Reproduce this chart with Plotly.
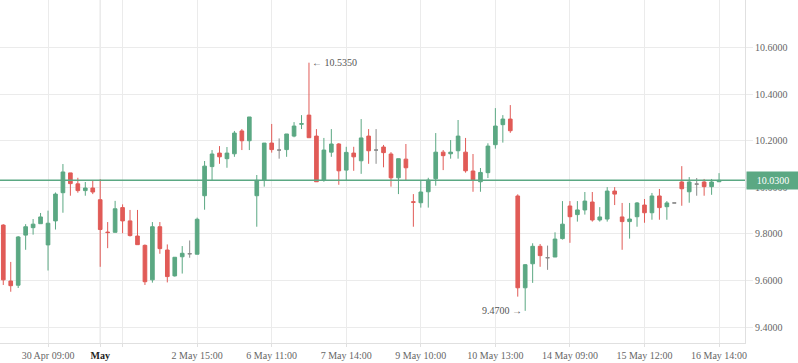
import numpy as np
import plotly.graph_objects as go

opens = [9.838, 9.598, 9.580, 9.795, 9.827, 9.844, 9.753, 9.856, 9.977, 10.062,
         10.015, 9.986, 9.997, 9.947, 9.808, 9.807, 9.913, 9.856, 9.791, 9.751,
         9.603, 9.831, 9.731, 9.620, 9.702, 9.715, 9.713, 9.964, 10.089, 10.147,
         10.123, 10.144, 10.242, 10.200, 9.964, 10.030, 10.190, 10.160, 10.162, 10.220,
         10.271, 10.310, 10.220, 10.031, 10.151, 10.186, 10.074, 10.147, 10.114, 10.220,
         10.160, 10.173, 10.143, 10.041, 10.121, 9.938, 9.934, 9.981, 10.037, 10.151,
         10.144, 10.157, 10.151, 10.070, 10.024, 10.063, 10.183, 10.269, 10.293, 9.963,
         9.569, 9.672, 9.747, 9.698, 9.701, 9.780, 9.920, 9.883, 9.903, 9.937,
         9.860, 9.864, 9.984, 9.873, 9.853, 9.874, 9.924, 9.891, 9.963, 9.917,
         9.933, 10.023, 9.981, 10.014, 10.023, 10.003, 10.024]
highs = [9.842, 9.680, 9.791, 9.842, 9.864, 9.890, 9.900, 9.978, 10.100, 10.062,
         10.041, 10.023, 10.030, 10.035, 9.851, 9.942, 9.927, 9.903, 9.903, 9.755,
         9.851, 9.851, 9.755, 9.700, 9.748, 9.772, 9.870, 10.113, 10.160, 10.177,
         10.173, 10.242, 10.250, 10.302, 10.053, 10.190, 10.272, 10.210, 10.229, 10.280,
         10.310, 10.535, 10.250, 10.212, 10.250, 10.190, 10.174, 10.174, 10.293, 10.250,
         10.250, 10.182, 10.151, 10.123, 10.186, 9.971, 10.028, 10.041, 10.233, 10.160,
         10.203, 10.289, 10.212, 10.143, 10.083, 10.189, 10.340, 10.310, 10.353, 9.970,
         9.671, 9.760, 9.757, 9.750, 9.807, 9.941, 9.941, 9.941, 9.980, 9.980,
         9.915, 10.001, 10.001, 9.933, 9.933, 9.937, 9.950, 9.976, 9.993, 9.941,
         9.933, 10.091, 10.044, 10.040, 10.036, 10.036, 10.061]
lows = [9.581, 9.552, 9.568, 9.732, 9.797, 9.844, 9.643, 9.819, 9.891, 9.964,
        9.977, 9.964, 9.971, 9.659, 9.739, 9.807, 9.803, 9.789, 9.754, 9.581,
        9.591, 9.715, 9.592, 9.617, 9.630, 9.698, 9.713, 9.904, 10.031, 10.101,
        10.084, 10.131, 10.160, 10.160, 9.831, 10.003, 10.149, 10.123, 10.131, 10.215,
        10.250, 10.213, 10.024, 10.024, 10.131, 10.011, 10.031, 10.071, 10.058, 10.101,
        10.101, 10.086, 10.003, 9.971, 10.031, 9.831, 9.913, 9.913, 10.007, 10.074,
        10.123, 10.123, 10.063, 9.981, 9.981, 10.040, 10.166, 10.192, 10.234, 9.531,
        9.470, 9.590, 9.659, 9.646, 9.701, 9.776, 9.762, 9.853, 9.883, 9.853,
        9.853, 9.853, 9.924, 9.732, 9.780, 9.831, 9.848, 9.861, 9.861, 9.861,
        9.933, 9.921, 9.934, 9.964, 9.964, 9.968, 10.024]
closes = [9.603, 9.578, 9.787, 9.831, 9.842, 9.873, 9.846, 9.971, 10.066, 10.016,
          9.986, 9.997, 9.980, 9.819, 9.806, 9.908, 9.856, 9.793, 9.754, 9.595,
          9.831, 9.737, 9.617, 9.700, 9.717, 9.715, 9.863, 10.091, 10.143, 10.131,
          10.147, 10.233, 10.200, 10.302, 10.030, 10.190, 10.162, 10.160, 10.229, 10.263,
          10.273, 10.213, 10.024, 10.160, 10.186, 10.071, 10.150, 10.131, 10.212, 10.157,
          10.160, 10.149, 10.041, 10.123, 10.084, 9.936, 9.980, 10.031, 10.151, 10.136,
          10.151, 10.220, 10.071, 10.033, 10.064, 10.177, 10.263, 10.293, 10.243, 9.569,
          9.668, 9.747, 9.707, 9.698, 9.778, 9.842, 9.874, 9.903, 9.941, 9.860,
          9.873, 9.984, 9.971, 9.853, 9.864, 9.933, 9.891, 9.963, 9.913, 9.933,
          9.933, 9.994, 10.023, 10.014, 10.003, 10.023, 10.030]

tick_idx = [6, 13, 16, 26, 36, 46, 56, 66, 76, 86, 96]
tick_text = ["30 Apr 09:00", "<b><span style='color:#222'>May</span></b>", "",
             "2 May 15:00", "6 May 11:00", "7 May 14:00", "9 May 10:00",
             "10 May 13:00", "14 May 09:00", "15 May 12:00", "16 May 14:00"]
month_tick = 13
y_ticks = [9.4, 9.6, 9.8, 10.0, 10.2, 10.4, 10.6]

GREEN = "#5ba883"
RED = "#e15b57"
GRAY = "#8a8a8a"
FONT = "Liberation Serif"

o = np.array(opens); h = np.array(highs); l = np.array(lows); c = np.array(closes)
x = np.arange(len(opens))
doji = o == c
nd = ~doji

fig = go.Figure()
fig.add_trace(go.Candlestick(
    x=x[nd], open=o[nd], high=h[nd], low=l[nd], close=c[nd],
    increasing=dict(line=dict(color=GREEN, width=1), fillcolor=GREEN),
    decreasing=dict(line=dict(color=RED, width=1), fillcolor=RED),
    whiskerwidth=0, hoverinfo="skip", showlegend=False))
fig.add_trace(go.Candlestick(
    x=x[doji], open=o[doji], high=h[doji], low=l[doji], close=c[doji],
    increasing=dict(line=dict(color=GRAY, width=1), fillcolor=GRAY),
    decreasing=dict(line=dict(color=GRAY, width=1), fillcolor=GRAY),
    whiskerwidth=0, hoverinfo="skip", showlegend=False))

last = closes[-1]
imax = int(np.argmax(h)); imin = int(np.argmin(l))

fig.add_shape(type="line", xref="x", yref="paper", x0=month_tick, x1=month_tick,
              y0=0, y1=1, line=dict(color="#d6d6d6", width=1), layer="below")
fig.add_shape(type="line", xref="paper", yref="y", x0=0, x1=1, y0=last, y1=last,
              line=dict(color=GREEN, width=1.5))

fig.add_annotation(x=1, xref="paper", y=last, yref="y", text=f"{last:.4f}",
                   showarrow=False, xanchor="left", yanchor="middle", xshift=1,
                   bgcolor=GREEN, borderpad=2, width=48, height=13, align="center",
                   font=dict(family=FONT, size=10, color="white"))
fig.add_annotation(x=imax, y=h[imax], text=f"\u2190 {h[imax]:.4f}", showarrow=False,
                   xanchor="left", yanchor="middle", xshift=1,
                   font=dict(family=FONT, size=10, color="#555"))
fig.add_annotation(x=imin, y=l[imin], text=f"{l[imin]:.4f} \u2192", showarrow=False,
                   xanchor="right", yanchor="middle", xshift=-1,
                   font=dict(family=FONT, size=10, color="#555"))

fig.update_layout(
    width=798, height=363, margin=dict(l=0, r=53, t=0, b=20),
    paper_bgcolor="white", plot_bgcolor="white",
    font=dict(family=FONT, size=10, color="#666"),
    xaxis=dict(range=[-0.44, 99.48], rangeslider=dict(visible=False),
               tickmode="array", tickvals=tick_idx, ticktext=tick_text,
               showgrid=True, gridcolor="#ebebeb", gridwidth=1,
               showline=True, linecolor="#e0e0e0", ticks="outside", ticklen=3,
               tickcolor="#e0e0e0", zeroline=False, tickfont=dict(size=10)),
    yaxis=dict(side="right", range=[9.332, 10.804], tickvals=y_ticks,
               tickformat=".4f", showgrid=True, gridcolor="#ebebeb",
               showline=True, linecolor="#e0e0e0", ticks="outside", ticklen=7,
               tickcolor="#ebebeb", zeroline=False, tickfont=dict(size=10)),
)

fig.write_html("out.html", config={"displayModeBar": False},
               post_script="document.body.style.margin='0';")
